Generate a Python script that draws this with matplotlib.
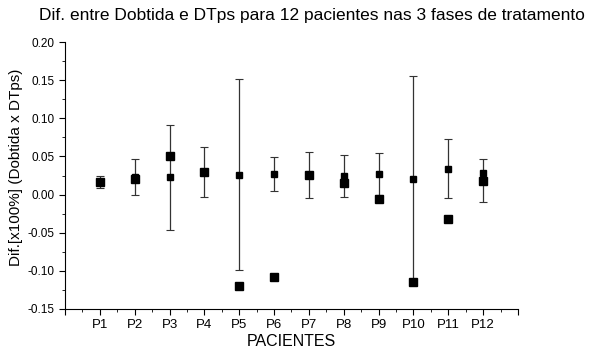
import numpy as np
import matplotlib
matplotlib.use("Agg")
import matplotlib.pyplot as plt
from matplotlib.ticker import MultipleLocator

pacientes = ['P1', 'P2', 'P3', 'P4', 'P5', 'P6', 'P7', 'P8', 'P9', 'P10', 'P11', 'P12']
media = [0.016, 0.0235, 0.023, 0.029, 0.026, 0.027, 0.026, 0.025, 0.027, 0.021, 0.033, 0.028]
erro_sup = [0.024, 0.047, 0.091, 0.062, 0.152, 0.049, 0.056, 0.052, 0.054, 0.155, 0.073, 0.046]
erro_inf = [0.008, 0.000, -0.046, -0.0035, -0.099, 0.005, -0.005, -0.003, 0.000, -0.114, -0.005, -0.010]
pontos = [0.016, 0.021, 0.050, 0.029, -0.120, -0.108, 0.026, 0.015, -0.006, -0.114, -0.032, 0.018]

plt.rcParams['font.family'] = ['Liberation Sans', 'DejaVu Sans']

fig = plt.figure(figsize=(6.04, 3.51), dpi=100)
ax = fig.add_axes([0.1076, 0.1197, 0.75, 0.7606])

x = np.arange(1, len(pacientes) + 1)
media = np.array(media)
yerr = [media - np.array(erro_inf), np.array(erro_sup) - media]

ax.errorbar(x, media, yerr=yerr, fmt='s', color='black', ecolor='#333333',
            elinewidth=0.9, capsize=3, capthick=0.8, markersize=4.5)
ax.plot(x, pontos, 's', color='black', markersize=5.5, linestyle='none')

ax.set_xlim(0, 13)
ax.set_ylim(-0.15, 0.20)
ax.set_xticks(np.arange(0, 14))
ax.set_xticklabels([''] + pacientes + [''], fontsize=9.5)
ax.xaxis.set_minor_locator(MultipleLocator(0.5))
ax.yaxis.set_major_locator(MultipleLocator(0.05))
ax.yaxis.set_minor_locator(MultipleLocator(0.025))
ax.set_yticklabels([f"{v:.2f}" for v in ax.get_yticks()], fontsize=8.5)
ax.tick_params(which='major', direction='out', length=4, width=0.8)
ax.tick_params(which='minor', direction='out', length=2, width=0.6)

for s in ['top', 'right']:
    ax.spines[s].set_visible(False)

ax.set_xlabel('PACIENTES', fontsize=11.5, labelpad=2)
ax.set_ylabel('Dif.[x100%] (Dobtida x DTps)', fontsize=11)
ax.yaxis.set_label_coords(-0.092, 0.53)
fig.text(0.517, 0.955, 'Dif. entre Dobtida e DTps para 12 pacientes nas 3 fases de tratamento',
         ha='center', va='center', fontsize=12.5)

fig.savefig('out.png', dpi=100)
